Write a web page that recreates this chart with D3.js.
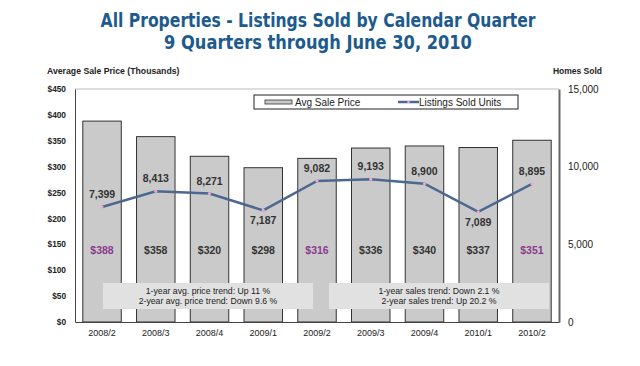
<!DOCTYPE html>
<html><head><meta charset="utf-8">
<script src="https://cdn.jsdelivr.net/npm/d3@7"></script>
<style>body{margin:0;background:#fff}svg{display:block}text{font-family:"Liberation Sans",Arial,sans-serif}</style>
</head><body><svg id="c" width="640" height="366"></svg>
<script>
const quarters = ["2008/2","2008/3","2008/4","2009/1","2009/2","2009/3","2009/4","2010/1","2010/2"];
const avgPrice = [388,358,320,298,316,336,340,337,351];
const unitsSold = [7399,8413,8271,7187,9082,9193,8900,7089,8895];
const highlightQuarters = ["2008/2","2009/2","2010/2"];
const priceTicks = [0,50,100,150,200,250,300,350,400,450];
const unitTicks = [0,5000,10000,15000];
const titleLines = ["All Properties - Listings Sold by Calendar Quarter","9 Quarters through June 30, 2010"];
const priceTrendNotes = ["1-year avg. price trend: Up 11 %","2-year avg. price trend: Down 9.6 %"];
const salesTrendNotes = ["1-year sales trend: Down 2.1 %","2-year sales trend: Up 20.2 %"];

const svg = d3.select("#c");
const L=75, R=559, T=89, B=322;
const x = d3.scaleBand().domain(quarters).range([L,R]).paddingInner(0.284).paddingOuter(0.145);
const yP = d3.scaleLinear().domain([0,450]).range([B,T]);
const yU = d3.scaleLinear().domain([0,15000]).range([B,T]);

// title (condensed by horizontal scaling to match the narrow face)
const titleColor="#1d5a8e";
const titleWidths=[435,308];
titleLines.forEach((t,i)=>{
  const g = svg.append("g");
  const tx = g.append("text").attr("x",0).attr("y",0).attr("text-anchor","middle")
    .attr("fill",titleColor).style("font-family",'"DejaVu Sans Condensed","Liberation Sans Narrow","Liberation Sans",sans-serif')
    .style("font-weight","bold").style("font-size","20px").text(t);
  const w = tx.node().getComputedTextLength();
  const s = titleWidths[i]/w;
  g.attr("transform",`translate(318,${27+i*22}) scale(${s},1)`);
});

// axis titles
svg.append("text").attr("x",47).attr("y",74).style("font-size","8.7px").style("font-weight","bold").attr("fill","#222").text("Average Sale Price (Thousands)");
svg.append("text").attr("x",602).attr("y",74).attr("text-anchor","end").style("font-size","8.5px").style("font-weight","bold").attr("fill","#222").text("Homes Sold");

// top frame line
svg.append("line").attr("x1",L).attr("x2",R).attr("y1",T).attr("y2",T).attr("stroke","#bdbdbd").attr("stroke-width",1);

// bars
svg.selectAll("rect.bar").data(avgPrice).join("rect")
  .attr("x",(d,i)=>x(quarters[i])).attr("width",x.bandwidth())
  .attr("y",d=>yP(d)).attr("height",d=>B-yP(d))
  .attr("fill","#cacaca").attr("stroke","#333").attr("stroke-width",1);

// left axis
const axL = d3.axisLeft(yP).tickValues(priceTicks).tickFormat(d=>"$"+d).tickSize(0).tickPadding(9);
const gL = svg.append("g").attr("transform",`translate(${L},0)`).call(axL);
gL.select(".domain").attr("stroke","#444");
gL.selectAll("text").style("font-size","8.3px").style("font-weight","bold").attr("fill","#222").style("font-family",'"Liberation Sans",Arial,sans-serif');

// right axis
const axR = d3.axisRight(yU).tickValues(unitTicks).tickFormat(d3.format(",")).tickSize(0).tickPadding(9);
const gR = svg.append("g").attr("transform",`translate(${R},0)`).call(axR);
gR.select(".domain").attr("stroke","#666").attr("stroke-width",2);
gR.selectAll("text").style("font-size","10px").attr("fill","#222").style("font-family",'"Liberation Sans",Arial,sans-serif');

// bottom axis
const axB = d3.axisBottom(x).tickSize(0).tickPadding(8);
const gB = svg.append("g").attr("transform",`translate(0,${B})`).call(axB);
gB.select(".domain").attr("stroke","#444");
gB.selectAll("text").style("font-size","9px").attr("fill","#222").style("font-family",'"Liberation Sans",Arial,sans-serif');

// trend note boxes
function noteBox(x0,x1,lines){
  svg.append("rect").attr("x",x0).attr("y",283).attr("width",x1-x0).attr("height",26).attr("fill","#e1e1e1");
  svg.selectAll(null).data(lines).join("text").attr("x",(x0+x1)/2).attr("y",(d,i)=>294+i*10)
    .attr("text-anchor","middle").style("font-size","8.7px").attr("fill","#222").text(d=>d);
}
noteBox(103,313,priceTrendNotes);
noteBox(329,549,salesTrendNotes);

// line
const cx = i=>x(quarters[i])+x.bandwidth()/2;
svg.append("path").datum(unitsSold)
  .attr("d",d3.line().x((d,i)=>cx(i)).y(d=>yU(d)))
  .attr("fill","none").attr("stroke","#4c6890").attr("stroke-width",2.5);
svg.selectAll("circle.pt").data(unitsSold).join("circle")
  .attr("cx",(d,i)=>cx(i)).attr("cy",d=>yU(d)).attr("r",1.6).attr("fill","#f2a6d2");

// unit labels
const below=(d,i)=>i>0&&i<unitsSold.length-1&&d<unitsSold[i-1]&&d<unitsSold[i+1];
svg.selectAll("text.ul").data(unitsSold).join("text")
  .attr("x",(d,i)=>cx(i)).attr("y",(d,i)=>below(d,i)?yU(d)+14:yU(d)-9)
  .attr("text-anchor","middle").style("font-size","10.5px").style("font-weight","bold").attr("fill","#333")
  .text(d=>d3.format(",")(d));

// price labels
svg.selectAll("text.pl").data(avgPrice).join("text")
  .attr("x",(d,i)=>cx(i)).attr("y",254).attr("text-anchor","middle")
  .style("font-size","10.5px").style("font-weight","bold")
  .attr("fill",(d,i)=>highlightQuarters.includes(quarters[i])?"#8a3a8e":"#333")
  .text(d=>"$"+d);

// legend
const lg = svg.append("g");
lg.append("rect").attr("x",254).attr("y",95).attr("width",264).attr("height",14).attr("fill","#fff").attr("stroke","#222").attr("stroke-width",1);
lg.append("rect").attr("x",265).attr("y",100).attr("width",27).attr("height",4).attr("fill","#cacaca").attr("stroke","#333").attr("stroke-width",0.8);
lg.append("text").attr("x",295).attr("y",106).style("font-size","10px").attr("fill","#222").text("Avg Sale Price");
lg.append("line").attr("x1",398).attr("x2",419).attr("y1",102).attr("y2",102).attr("stroke","#4c6890").attr("stroke-width",2.5);
lg.append("circle").attr("cx",408.5).attr("cy",102).attr("r",1.3).attr("fill","#f2a6d2");
lg.append("text").attr("x",419).attr("y",106).style("font-size","10px").attr("fill","#222").text("Listings Sold Units");
</script></body></html>
